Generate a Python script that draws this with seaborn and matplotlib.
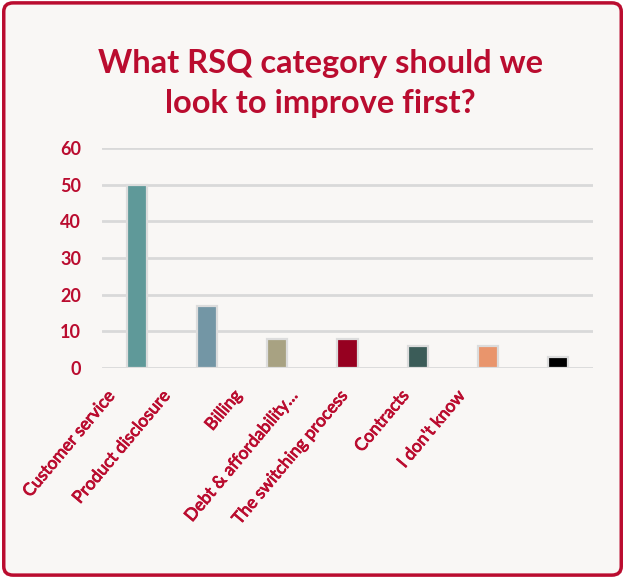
import matplotlib
matplotlib.use("Agg")
import matplotlib.pyplot as plt
import matplotlib.transforms as mtransforms
import matplotlib.patheffects as pe
from matplotlib.patches import FancyBboxPatch
import seaborn as sns
import pandas as pd

categories = ["Customer service", "Product disclosure", "Billing", "Debt & affordability…",
              "The switching process", "Contracts", "I don't know"]
values = [50, 17, 8, 8, 6, 6, 3]
colors = ["#5F9999", "#7396A5", "#A8A282", "#960020", "#3B5C58", "#E9956C", "#000000"]
yticks = [0, 10, 20, 30, 40, 50, 60]
title = "What RSQ category should we\nlook to improve first?"

RED = "#BA0C2F"
BG = "#F9F7F5"

sns.set_theme(style="white")
plt.rcParams["font.family"] = ["Lato", "DejaVu Sans"]

df = pd.DataFrame({"category": categories, "value": values})

fig = plt.figure(figsize=(6.25, 5.78), dpi=100)
fig.patch.set_facecolor("white")
border = FancyBboxPatch((0.006, 0.005), 0.988, 0.99, boxstyle="round,pad=0,rounding_size=0.015",
                        transform=fig.transFigure, facecolor=BG, edgecolor=RED, linewidth=2.5,
                        zorder=-10)
fig.patches.append(border)

ax = fig.add_axes([0.163, 0.3633, 0.786, 0.3806])
ax.set_facecolor("none")
sns.barplot(data=df, x="category", y="value", hue="category", palette=colors, legend=False,
            width=0.29, edgecolor="#DCDCDC", linewidth=1.6, saturation=1, ax=ax, zorder=3)
ax.set_ylim(0, 60)
ax.set_xlim(-0.5, len(categories) - 0.5)
ax.set_yticks(yticks)
ax.set_yticklabels([str(t) for t in yticks], color=RED, fontweight="bold", fontsize=13)
ax.yaxis.grid(True, color="#D9D9D9", linewidth=2, zorder=0)
ax.set_axisbelow(True)
for s in ax.spines.values():
    s.set_visible(False)
ax.tick_params(axis="y", length=0, pad=15)
ax.tick_params(axis="x", length=0, pad=14)
ax.set_xlabel("")
ax.set_ylabel("")

ax.set_xticks(range(len(categories)))
ax.set_xticklabels(categories, rotation=50, ha="right", rotation_mode="anchor",
                   color=RED, fontsize=12.5)
offsets_px = [-31, -46, -45, -59, -79, -88, -102]
for lbl, dx in zip(ax.get_xticklabels(), offsets_px):
    lbl.set_transform(lbl.get_transform() + mtransforms.ScaledTranslation(dx / 100, 0, fig.dpi_scale_trans))
    lbl.set_path_effects([pe.withStroke(linewidth=0.6, foreground=RED)])

fig.text(0.512, 0.856, title, ha="center", va="center", color=RED, fontsize=23.5,
         fontweight="bold", linespacing=1.45)

fig.savefig("out.png", dpi=100)
